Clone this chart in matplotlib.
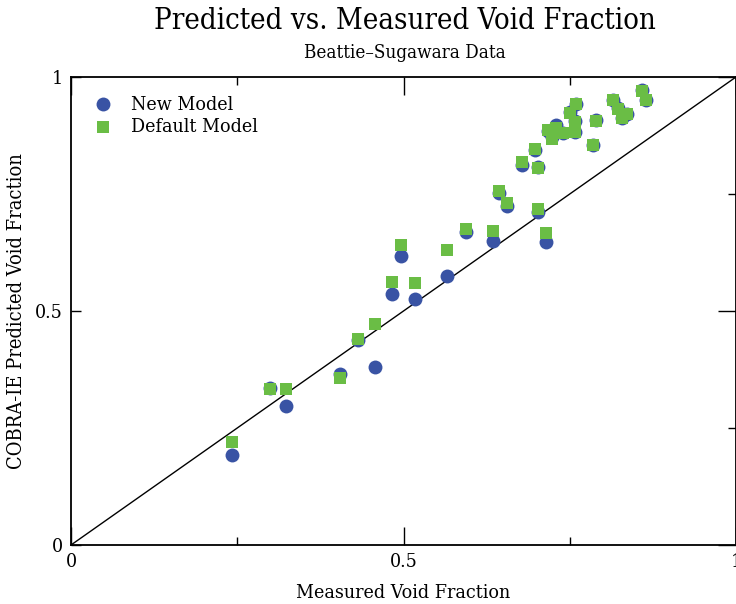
import matplotlib
matplotlib.use("Agg")
import matplotlib.pyplot as plt
from matplotlib.ticker import FixedLocator

# measured void fraction, with predicted values from both models
measured = [0.242, 0.299, 0.324, 0.405, 0.432, 0.457, 0.482, 0.496, 0.518, 0.565,
            0.594, 0.634, 0.644, 0.655, 0.678, 0.698, 0.703, 0.703, 0.714, 0.718,
            0.723, 0.730, 0.740, 0.750, 0.758, 0.758, 0.760, 0.785, 0.790, 0.815,
            0.823, 0.828, 0.836, 0.859, 0.865]
new_model = [0.192, 0.336, 0.296, 0.365, 0.438, 0.381, 0.536, 0.618, 0.526, 0.575,
             0.668, 0.650, 0.752, 0.725, 0.812, 0.845, 0.807, 0.712, 0.648, 0.885,
             0.872, 0.897, 0.880, 0.926, 0.883, 0.905, 0.943, 0.855, 0.908, 0.951,
             0.933, 0.912, 0.922, 0.972, 0.951]
default_model = [0.220, 0.334, 0.333, 0.356, 0.441, 0.472, 0.561, 0.641, 0.559, 0.630,
                 0.675, 0.671, 0.756, 0.731, 0.818, 0.846, 0.806, 0.718, 0.667, 0.886,
                 0.868, 0.890, 0.880, 0.924, 0.883, 0.903, 0.942, 0.855, 0.907, 0.950,
                 0.932, 0.912, 0.921, 0.970, 0.950]

major_ticks = [0, 0.5, 1]
major_labels = ["0", "0.5", "1"]
minor_ticks = [0.25, 0.75]

plt.rcParams["font.family"] = ["DejaVu Serif"]
plt.rcParams["font.stretch"] = "condensed"

fig = plt.figure(figsize=(7.36, 6.04), dpi=100)
ax = fig.add_axes([71 / 736, 59 / 604, 665 / 736, 468 / 604])

ax.plot([0, 1], [0, 1], color="black", linewidth=1, zorder=1)
ax.scatter(measured, new_model, s=100, marker="o", color="#3953a4",
           linewidths=0, label="New Model", zorder=2)
ax.scatter(measured, default_model, s=85, marker="s", color="#6abd45",
           linewidths=0, label="Default Model", zorder=3)

ax.set_xlim(0, 1)
ax.set_ylim(0, 1)
ax.xaxis.set_major_locator(FixedLocator(major_ticks))
ax.yaxis.set_major_locator(FixedLocator(major_ticks))
ax.xaxis.set_minor_locator(FixedLocator(minor_ticks))
ax.yaxis.set_minor_locator(FixedLocator(minor_ticks))
ax.set_xticklabels(major_labels)
ax.set_yticklabels(major_labels)
ax.tick_params(axis="both", which="both", direction="in", labelsize=14,
               top=True, right=True, width=1)
ax.tick_params(axis="both", which="major", length=13)
ax.tick_params(axis="both", which="minor", length=6)
ax.tick_params(axis="x", which="major", pad=6)
ax.tick_params(axis="y", which="major", pad=6)
# left side only has a short tick at the centre
ax.tick_params(axis="y", which="minor", left=False)
for t in ax.yaxis.get_major_ticks():
    t.tick1line.set_markersize(7)
for sp in ax.spines.values():
    sp.set_linewidth(1.3)

ax.set_xlabel("Measured Void Fraction", fontsize=14, labelpad=9)
ax.set_ylabel("COBRA-IE Predicted Void Fraction", fontsize=14.4)
ax.yaxis.set_label_coords(-0.068, 0.5)

fig.text(0.55, 0.965, "Predicted vs. Measured Void Fraction", ha="center",
         va="center", fontsize=21)
fig.text(0.55, 0.912, "Beattie\u2013Sugawara Data", ha="center", va="center",
         fontsize=13.5)

ax.legend(loc="upper left", frameon=False, fontsize=14, handletextpad=0.42,
          borderaxespad=0, labelspacing=0.22, bbox_to_anchor=(0.0075, 0.977))

fig.savefig("out.png", dpi=100)
